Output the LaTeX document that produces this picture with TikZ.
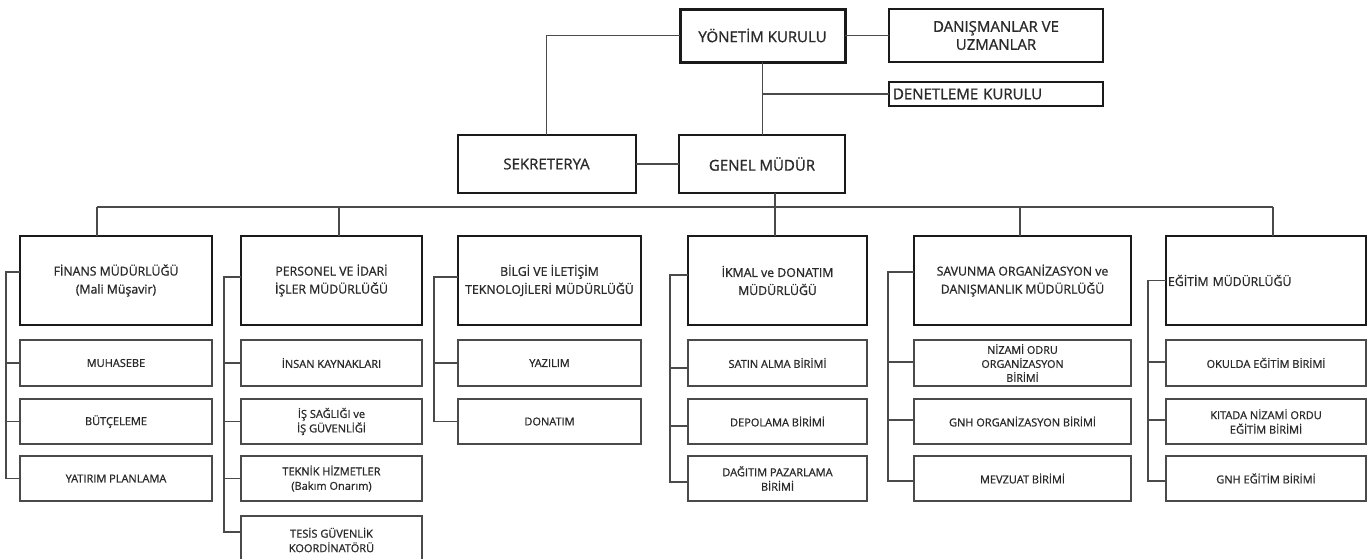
\documentclass[tikz,border=0pt]{standalone}
\usepackage{fontspec}
\setmainfont{Open Sans}[FakeBold=1]
\definecolor{txt}{HTML}{2A2A2A}
\definecolor{ln}{HTML}{4A4A4A}
\definecolor{bd}{HTML}{1A1A1A}
\tikzset{
  base/.style={draw=bd, text=txt, align=center, inner sep=0pt, outer sep=0pt},
  topbox/.style={base, line width=3pt, font=\fontsize{15}{18}\selectfont},
  midbox/.style={base, line width=2pt, font=\fontsize{15}{18}\selectfont},
  dirbox/.style={base, line width=2.4pt, minimum height=89pt, font=\fontsize{12.3}{18}\selectfont},
  subbox/.style={base, draw=ln, line width=1.4pt, font=\fontsize{11}{14.5}\selectfont},
  conn/.style={draw=ln, line width=1.2pt}
}
\begin{document}
\begin{tikzpicture}[x=1pt,y=-1pt]
\fill[white] (0,0) rectangle (1368,558);
\useasboundingbox (0,0) rectangle (1368,558);
\clip (0,0) rectangle (1368,558);

% top level
\node[topbox, minimum width=165pt, minimum height=53pt] (yk) at (762.5,35.5) {YÖNETİM KURULU};
\node[midbox, minimum width=214pt, minimum height=53pt] (dan) at (996,35.5) {DANIŞMANLAR VE\\UZMANLAR};
\node[midbox, minimum width=214pt, minimum height=24pt, text width=206pt, align=left] (den) at (996,94) {DENETLEME KURULU};
\node[midbox, minimum width=166pt, minimum height=58pt] (gm) at (762,164) {GENEL MÜDÜR};
\node[midbox, minimum width=178pt, minimum height=58pt] (sek) at (546.5,164) {SEKRETERYA};

\draw[conn] (yk) -- (dan);
\draw[conn] (yk.west) -| (sek.north);
\draw[conn] (yk.south) -- (yk.south |- gm.north);
\draw[conn] (den.west) -- (den.west -| yk.south);
\draw[conn] (sek) -- (gm);

% directors
\node[dirbox, minimum width=192pt] (fin) at (116,280.5) {FİNANS MÜDÜRLÜĞÜ\\(Mali Müşavir)};
\node[dirbox, minimum width=181pt] (per) at (331.5,280.5) {PERSONEL VE İDARİ\\İŞLER MÜDÜRLÜĞÜ};
\node[dirbox, minimum width=183pt] (bil) at (549.5,280.5) {BİLGİ VE İLETİŞİM\\TEKNOLOJİLERİ MÜDÜRLÜĞÜ};
\node[dirbox, minimum width=179pt] (ikm) at (777.5,280.5) {İKMAL ve DONATIM\\MÜDÜRLÜĞÜ};
\node[dirbox, minimum width=217pt] (sav) at (1022.5,280.5) {SAVUNMA ORGANİZASYON ve\\DANIŞMANLIK MÜDÜRLÜĞÜ};
\node[dirbox, minimum width=200pt, text width=196pt, align=left] (egi) at (1266,280.5) {EĞİTİM MÜDÜRLÜĞÜ};

% bus
\coordinate (busL) at (97,207);
\coordinate (busR) at (1273,207);
\draw[conn] (busL) -- (busR);
\draw[conn] (busL) -- (busL |- fin.north);
\draw[conn] ([xshift=7.5pt]per.north) -- ([xshift=7.5pt]per.north |- busL);
\draw[conn] ([xshift=13pt]gm.south) -- ([xshift=13pt]gm.south |- ikm.north);
\draw[conn] ([xshift=-2.5pt]sav.north) -- ([xshift=-2.5pt]sav.north |- busL);
\draw[conn] (busR) -- (busR |- egi.north);

% sub boxes: finans
\node[subbox, minimum width=192pt, minimum height=46pt] (muh) at (116,363) {MUHASEBE};
\node[subbox, minimum width=192pt, minimum height=45pt] (but) at (116,421.5) {BÜTÇELEME};
\node[subbox, minimum width=192pt, minimum height=45pt] (yat) at (116,478.5) {YATIRIM PLANLAMA};
% personel
\node[subbox, minimum width=181pt, minimum height=46pt] (ins) at (331.5,363) {İNSAN KAYNAKLARI};
\node[subbox, minimum width=181pt, minimum height=45pt] (isg) at (331.5,421.5) {İŞ SAĞLIĞI ve\\İŞ GÜVENLİĞİ};
\node[subbox, minimum width=181pt, minimum height=45pt] (tek) at (331.5,478.5) {TEKNİK HİZMETLER\\(Bakım Onarım)};
\node[subbox, minimum width=181pt, minimum height=48pt] (tes) at (331.5,540) {TESİS GÜVENLİK\\KOORDİNATÖRÜ};
% bilgi
\node[subbox, minimum width=183pt, minimum height=46pt] (yaz) at (549.5,363) {YAZILIM};
\node[subbox, minimum width=183pt, minimum height=45pt] (don) at (549.5,421.5) {DONATIM};
% ikmal
\node[subbox, minimum width=179pt, minimum height=46pt] (sat) at (777.5,363) {SATIN ALMA BİRİMİ};
\node[subbox, minimum width=179pt, minimum height=45pt] (dep) at (777.5,421.5) {DEPOLAMA BİRİMİ};
\node[subbox, minimum width=179pt, minimum height=45pt] (dag) at (777.5,478.5) {DAĞITIM PAZARLAMA\\BİRİMİ};
% savunma
\node[subbox, minimum width=217pt, minimum height=46pt, font=\fontsize{10.8}{14}\selectfont] (niz) at (1022.5,363) {NİZAMİ ODRU\\ORGANİZASYON\\BİRİMİ};
\node[subbox, minimum width=217pt, minimum height=45pt] (gno) at (1022.5,421.5) {GNH ORGANİZASYON BİRİMİ};
\node[subbox, minimum width=217pt, minimum height=45pt] (mev) at (1022.5,478.5) {MEVZUAT BİRİMİ};
% egitim
\node[subbox, minimum width=200pt, minimum height=46pt] (oku) at (1266,363) {OKULDA EĞİTİM BİRİMİ};
\node[subbox, minimum width=200pt, minimum height=45pt] (kit) at (1266,421.5) {KITADA NİZAMİ ORDU\\EĞİTİM BİRİMİ};
\node[subbox, minimum width=200pt, minimum height=45pt] (gne) at (1266,478.5) {GNH EĞİTİM BİRİMİ};

% brackets
\draw[conn] ([yshift=8.5pt]fin.west) -- ++(-14,0) |- (yat.west);
\draw[conn] (muh.west) -- ++(-14,0);
\draw[conn] (but.west) -- ++(-14,0);

\draw[conn] ([yshift=3.5pt]per.west) -- ++(-17,0) |- ([yshift=8pt]tes.west);
\draw[conn] (ins.west) -- ++(-17,0);
\draw[conn] (isg.west) -- ++(-17,0);
\draw[conn] (tek.west) -- ++(-17,0);

\draw[conn] ([yshift=3.5pt]bil.west) -- ++(-24,0) |- (don.west);
\draw[conn] (yaz.west) -- ++(-24,0);

\draw[conn] ([yshift=5.5pt]ikm.west) -- ++(-18,0) |- ([yshift=-3.5pt]dag.west);
\draw[conn] ([yshift=-5pt]sat.west) -- ++(-18,0);
\draw[conn] ([yshift=-4.5pt]dep.west) -- ++(-18,0);

\draw[conn] ([yshift=8.5pt]sav.west) -- ++(-26,0) |- ([yshift=-2.5pt]mev.west);
\draw[conn] ([yshift=1pt]niz.west) -- ++(-26,0);
\draw[conn] ([yshift=1.5pt]gno.west) -- ++(-26,0);

\draw[conn] (egi.west) -- ++(-18,0) |- ([yshift=-2.5pt]gne.west);
\draw[conn] ([yshift=1pt]oku.west) -- ++(-18,0);
\draw[conn] ([yshift=1.5pt]kit.west) -- ++(-18,0);
\end{tikzpicture}
\end{document}
